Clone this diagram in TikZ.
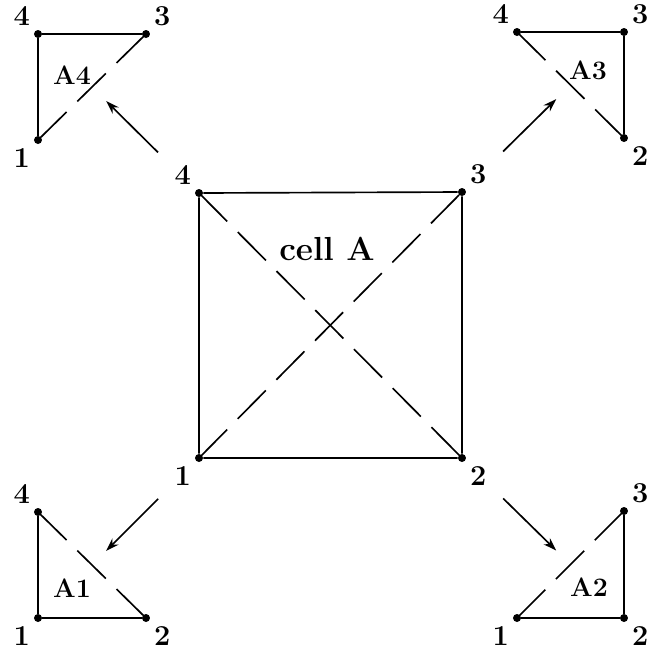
\documentclass[tikz,border=0pt]{standalone}
\usetikzlibrary{arrows.meta, calc}

\begin{document}
\begin{tikzpicture}[x=0.45pt, y=-0.45pt, >={Stealth[length=6pt, width=4pt]},
    dot/.style={circle, fill=black, inner sep=0pt, minimum size=3.6pt},
    every label/.style={font=\fontsize{13}{15}\selectfont\bfseries, inner sep=1pt},
    label distance=1.5pt,
    tag/.style={font=\large\bfseries},
    edge/.style={line width=0.75pt},
    diag/.style={line width=0.75pt, dash pattern=on 18pt off 6.75pt},
    move/.style={->, line width=0.75pt, shorten <=24pt, shorten >=9pt}]
    \useasboundingbox (0,0) rectangle (647,656);

    % Cell A
    \node[dot, label=above left:4]  (c4) at (199,193) {};
    \node[dot, label=above right:3] (c3) at (462,192) {};
    \node[dot, label=below left:1]  (c1) at (199,458) {};
    \node[dot, label=below right:2] (c2) at (462,458) {};
    \draw[edge] (c1) -- (c2) -- (c3) -- (c4) -- (c1);
    \draw[diag] (c4.center) -- (c2.center);
    \draw[diag] (c1.center) -- (c3.center);
    \node[font=\fontsize{15}{18}\selectfont\bfseries] (cellA) at (327,249) {cell A};

    % Triangle A4 (top left)
    \node[dot, label=above left:4]  (a4-4) at (38,34) {};
    \node[dot, label=above right:3] (a4-3) at (146,34) {};
    \node[dot, label=below left:1]  (a4-1) at (38,140) {};
    \draw[edge] (a4-1) -- (a4-4) -- (a4-3);
    \draw[diag] (a4-1.center) -- (a4-3.center);
    \node[tag] (A4) at (72,75) {A4};

    % Triangle A3 (top right)
    \node[dot, label=above left:4]  (a3-4) at (517,32) {};
    \node[dot, label=above right:3] (a3-3) at (624,32) {};
    \node[dot, label=below right:2] (a3-2) at (624,138) {};
    \draw[edge] (a3-4) -- (a3-3) -- (a3-2);
    \draw[diag] (a3-4.center) -- (a3-2.center);
    \node[tag] (A3) at (588,70) {A3};

    % Triangle A1 (bottom left)
    \node[dot, label=above left:4]  (a1-4) at (38,512) {};
    \node[dot, label=below left:1]  (a1-1) at (38,618) {};
    \node[dot, label=below right:2] (a1-2) at (146,618) {};
    \draw[edge] (a1-4) -- (a1-1) -- (a1-2);
    \draw[diag] (a1-4.center) -- (a1-2.center);
    \node[tag] (A1) at (72,588) {A1};

    % Triangle A2 (bottom right)
    \node[dot, label=above right:3] (a2-3) at (624,511) {};
    \node[dot, label=below left:1]  (a2-1) at (517,618) {};
    \node[dot, label=below right:2] (a2-2) at (624,618) {};
    \draw[edge] (a2-1) -- (a2-2) -- (a2-3);
    \draw[diag] (a2-1.center) -- (a2-3.center);
    \node[tag] (A2) at (589,587) {A2};

    % Subdivision arrows
    \coordinate (m4) at ($(a4-1)!0.5!(a4-3)$);
    \coordinate (m3) at ($(a3-4)!0.5!(a3-2)$);
    \coordinate (m1) at ($(a1-4)!0.5!(a1-2)$);
    \coordinate (m2) at ($(a2-1)!0.5!(a2-3)$);
    \foreach \k in {1,...,4}
        \draw[move] (c\k) -- (m\k);

\end{tikzpicture}
\end{document}
